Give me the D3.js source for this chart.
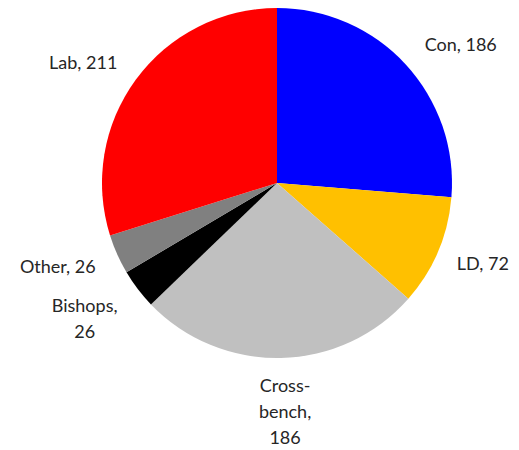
<!DOCTYPE html>
<html>
<head>
<meta charset="utf-8">
<script src="https://cdn.jsdelivr.net/npm/d3@7"></script>
<style>
  body { margin: 0; background: #fff; }
  svg text { font-family: Lato, "Open Sans", sans-serif; font-size: 18px; fill: #262626; }
</style>
</head>
<body>
<div id="chart"></div>
<script>
const width = 519;
const height = 450;

// House of Lords seats by group
const groups = ['Con', 'LD', 'Cross-bench', 'Bishops', 'Other', 'Lab'];
const seats = [186, 72, 186, 26, 26, 211];
const colors = ['#0000ff', '#ffc000', '#c0c0c0', '#000000', '#808080', '#ff0000'];
// label lines as drawn in the chart
const labelLines = [
  ['Con, 186'],
  ['LD, 72'],
  ['Cross-', 'bench,', '186'],
  ['Bishops,', '26'],
  ['Other, 26'],
  ['Lab, 211'],
];
// nudges from the label arc, like the hand-placed labels in the original
const labelNudge = [[16, 16], [-4, -9], [3, 1], [-11, -2], [-11, -9], [-10, 15]];

const cx = 277;
const cy = 183;
const radius = 175;
const labelRadius = 228;
const lineHeight = 26;

const data = groups.map((g, i) => ({
  group: g, seats: seats[i], color: colors[i], lines: labelLines[i], nudge: labelNudge[i],
}));

const svg = d3.select('#chart')
  .append('svg')
  .attr('width', width)
  .attr('height', height);

const g = svg.append('g').attr('transform', `translate(${cx}, ${cy})`);

const pie = d3.pie().sort(null).value((d) => d.seats);
const arc = d3.arc().innerRadius(0).outerRadius(radius);
const labelArc = d3.arc().innerRadius(labelRadius).outerRadius(labelRadius);

const arcs = pie(data);

g.selectAll('path')
  .data(arcs)
  .join('path')
  .attr('d', arc)
  .attr('fill', (d) => d.data.color);

const labels = g.selectAll('text.label')
  .data(arcs)
  .join('text')
  .attr('class', 'label')
  .attr('text-anchor', 'middle')
  .attr('transform', (d) => {
    const [x, y] = labelArc.centroid(d);
    return `translate(${x + d.data.nudge[0]}, ${y + d.data.nudge[1]})`;
  });

labels.selectAll('tspan')
  .data((d) => d.data.lines.map((line, i, all) => ({ line, i, n: all.length })))
  .join('tspan')
  .attr('x', 0)
  .attr('y', (d) => (d.i - (d.n - 1) / 2) * lineHeight)
  .attr('dy', '0.35em')
  .text((d) => d.line);
</script>
</body>
</html>
